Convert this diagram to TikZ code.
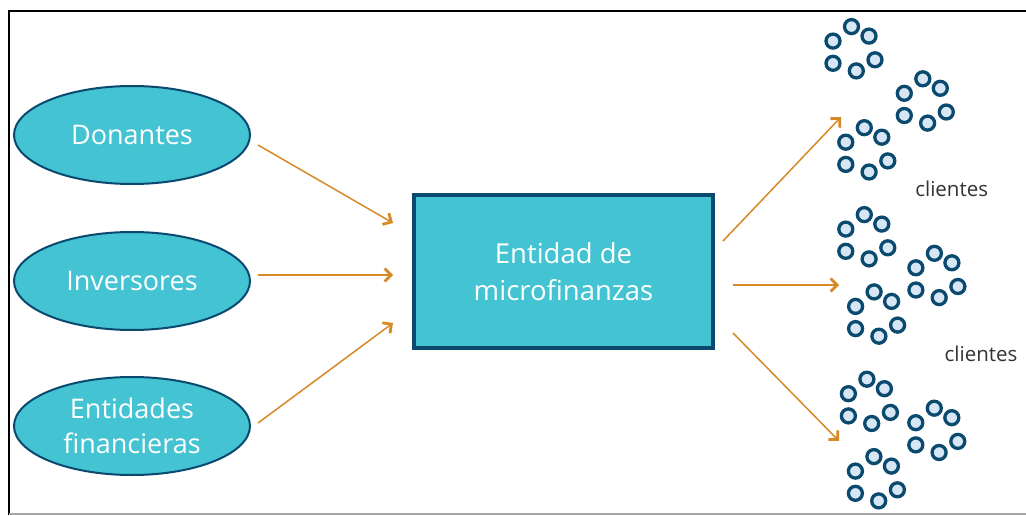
\documentclass[tikz,border=0pt]{standalone}
\usepackage{fontspec}
\setmainfont{Open Sans}
\usetikzlibrary{arrows.meta,shapes.geometric}
\definecolor{cyanfill}{HTML}{44C3D2}
\definecolor{navy}{HTML}{0B4A6F}
\definecolor{arrorange}{HTML}{D68A26}
\definecolor{clientfill}{HTML}{D6E6F5}
\definecolor{txtgray}{HTML}{333333}
\tikzset{
  source/.style={ellipse, draw=navy, line width=2pt, fill=cyanfill, minimum width=236pt, minimum height=98pt, inner sep=0pt, text=white, align=center, font=\fontsize{27}{35}\selectfont},
  mfi/.style={rectangle, draw=navy, line width=4pt, fill=cyanfill, minimum width=299pt, minimum height=153pt, inner sep=0pt, text=white, align=center, font=\fontsize{27.5}{36.5}\selectfont},
  flow/.style={draw=arrorange, line width=1.5pt, -{Straight Barb[length=6.5pt,width=13pt,line width=2.8pt]}},
  clientring/.style={draw=navy, line width=3.3pt, fill=clientfill},
  clientlabel/.style={text=txtgray, font=\fontsize{20.5}{24}\selectfont, inner sep=0pt},
  cluster/.pic={
    \foreach \dx/\dy in {-1.5/-23, 16/-13.5, -20/-8.5, -20/13.7, 3.3/21.3, 22/10.2}
      \draw[clientring] (\dx,\dy) circle[radius=7];
  }
}
\begin{document}
\begin{tikzpicture}[x=1pt,y=-1pt]
\useasboundingbox (0,0) rectangle (1026,516);
\fill[white] (0,0) rectangle (1026,516);
% frame
\draw[black, line width=2pt] (1026,11) -- (9,11) -- (9,515);
\draw[gray!70, line width=1.5pt] (9,514) -- (1026,514);

% source nodes
\node[source] (don) at (132,135) {Donantes};
\node[source] (inv) at (132,281) {Inversores};
\node[source] (fin) at (132,426) {Entidades\\financieras};
\node[mfi] (ent) at (563.5,271.5) {Entidad de\\microfinanzas};

% arrow end points
\coordinate (a1s) at (258,145); \coordinate (a1e) at (393,223);
\coordinate (a2s) at (258,275); \coordinate (a2e) at (393,275);
\coordinate (a3s) at (258,423); \coordinate (a3e) at (393,323);
\coordinate (a4s) at (723,241); \coordinate (a4e) at (841,117);
\coordinate (a5s) at (733,285); \coordinate (a5e) at (839,285);
\coordinate (a6s) at (733,333); \coordinate (a6e) at (839,441);

\draw[flow] (a1s) -- (a1e);
\draw[flow] (a2s) -- (a2e);
\draw[flow] (a3s) -- (a3e);
\draw[flow] (a4s) -- (a4e);
\draw[flow] (a5s) -- (a5e);
\draw[flow] (a6s) -- (a6e);

% client clusters
\pic at (853,49.6) {cluster};
\pic at (924.3,101.8) {cluster};
\pic at (865.8,150.7) {cluster};
\pic at (865.8,237.6) {cluster};
\pic at (935.9,276.3) {cluster};
\pic at (875.6,314.9) {cluster};
\pic at (868.4,402.2) {cluster};
\pic at (935.8,431.2) {cluster};
\pic at (875.4,479.6) {cluster};

\node[clientlabel] (cl1) at (951.7,189) {clientes};
\node[clientlabel] (cl2) at (981,354) {clientes};
\end{tikzpicture}
\end{document}
